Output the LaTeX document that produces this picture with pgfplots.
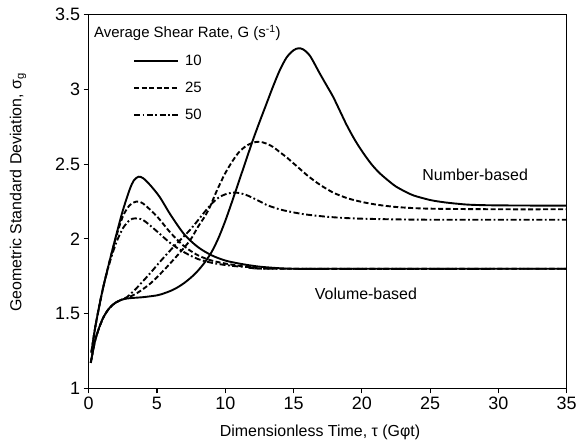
\documentclass[border=0pt]{standalone}
\usepackage{pgfplots}
\pgfplotsset{compat=1.18}
\usepackage{fontspec}
\setmainfont{Liberation Sans}
\begin{document}
\begin{tikzpicture}
\path[use as bounding box] (-88.7bp,-54.7bp) rectangle (487.3bp,388.3bp);
\begin{axis}[
  at={(0,0)}, anchor=south west, scale only axis,
  width=478bp, height=373.6bp,
  xmin=0, xmax=35, ymin=1, ymax=3.5,
  xtick={0,5,...,35}, ytick={1,1.5,2,2.5,3,3.5},
  tick align=outside, tick pos=left,
  major tick length=5bp,
  axis line style={line width=1.1bp},
  every tick/.style={line width=1.1bp, black},
  /pgf/number format/assume math mode=true,
  ticklabel style={font=\fontsize{18}{21}\selectfont},
  xlabel={Dimensionless Time, τ (Gφt)},
  ylabel={Geometric Standard Deviation, σ\textsubscript{g}},
  label style={font=\fontsize{16}{19}\selectfont},
  x label style={at={(axis description cs:0.484,0)}, anchor=center, yshift=-44bp},
  y label style={at={(axis description cs:-0.148,0.524)}, anchor=center},
  legend style={at={(axis cs:3.24,3.245)}, anchor=north west, draw=none, fill=none,
    font=\fontsize{15}{18}\selectfont, inner sep=0pt, row sep=11bp,
    /tikz/every odd column/.append style={column sep=4bp}},
  legend cell align=left,
  legend image code/.code={\draw[#1] (0bp,0bp) -- (44bp,0bp);},
  every axis plot/.append style={line width=1.9bp, black, smooth, tension=0.5},
]
% Number-based, G=10
\addplot[solid] coordinates {
(0.15,1.17)(0.5,1.33)(1,1.46)(1.5,1.535)(2,1.575)(2.5,1.595)(3,1.603)(4,1.61)(5,1.622)(5.5,1.635)(6,1.652)(6.5,1.675)(7,1.705)(7.5,1.742)(8,1.787)(8.5,1.843)(9,1.912)(9.5,2.005)(10,2.12)(10.5,2.25)(11,2.385)(11.5,2.52)(12,2.655)(12.5,2.78)(13,2.90)(13.5,3.02)(14,3.13)(14.5,3.215)(15,3.262)(15.35,3.275)(15.7,3.268)(16.2,3.225)(16.9,3.11)(17.4,3.03)(17.9,2.95)(18.4,2.855)(18.9,2.76)(19.5,2.66)(20.1,2.575)(20.7,2.50)(21.3,2.44)(22,2.385)(22.5,2.35)(23.2,2.315)(23.8,2.29)(25,2.26)(26,2.245)(27,2.235)(28,2.228)(30,2.224)(35,2.222)};
\addlegendentry{10}
% Number-based, G=25
\addplot[dash pattern=on 5bp off 2.5bp] coordinates {
(0.15,1.17)(0.5,1.33)(1,1.46)(1.5,1.535)(2,1.575)(2.5,1.595)(2.8,1.605)(3.5,1.635)(4.5,1.70)(5.5,1.79)(6.5,1.89)(7.42,1.99)(8,2.08)(8.5,2.15)(8.88,2.215)(9.37,2.32)(10,2.44)(10.6,2.53)(11,2.58)(11.5,2.62)(12,2.643)(12.5,2.65)(13,2.638)(13.5,2.615)(14,2.58)(14.5,2.545)(15,2.505)(15.5,2.465)(16,2.425)(16.5,2.39)(17,2.358)(17.5,2.33)(18,2.305)(18.5,2.287)(19,2.27)(20,2.247)(21,2.23)(22,2.218)(23,2.21)(25,2.202)(30,2.198)(35,2.198)};
\addlegendentry{25}
% Number-based, G=50
\addplot[dash pattern=on 6bp off 2.5bp on 1.8bp off 2.5bp] coordinates {
(0.15,1.17)(0.5,1.33)(1,1.46)(1.5,1.535)(2,1.575)(2.5,1.597)(2.8,1.61)(3.5,1.67)(4.5,1.77)(5.3,1.855)(6.3,1.955)(7.42,2.06)(8.4,2.17)(9.0,2.235)(9.5,2.275)(10,2.298)(10.7,2.31)(11.5,2.295)(12.5,2.252)(13,2.228)(14,2.197)(15,2.177)(16,2.162)(17.7,2.146)(20,2.135)(25,2.128)(35,2.128)};
\addlegendentry{50}
% Volume-based, G=10
\addplot[solid, forget plot] coordinates {
(0.2,1.24)(0.5,1.42)(1,1.65)(1.5,1.84)(2,2.02)(2.5,2.19)(3,2.33)(3.3,2.39)(3.65,2.416)(4,2.405)(4.5,2.36)(5.2,2.28)(6,2.16)(7,2.03)(8,1.945)(9,1.89)(10,1.855)(11,1.835)(12,1.82)(13,1.81)(15,1.80)(20,1.80)(35,1.80)};
% Volume-based, G=25
\addplot[dash pattern=on 5bp off 2.5bp, forget plot] coordinates {
(0.2,1.24)(0.5,1.42)(1,1.65)(1.5,1.84)(2,2.01)(2.5,2.15)(3,2.225)(3.5,2.25)(4,2.235)(5,2.15)(6,2.04)(7,1.95)(8,1.89)(9,1.855)(10,1.835)(11,1.82)(12,1.81)(14,1.80)(35,1.80)};
% Volume-based, G=50
\addplot[dash pattern=on 6bp off 2.5bp on 1.8bp off 2.5bp, forget plot] coordinates {
(0.2,1.24)(0.5,1.42)(1,1.65)(1.5,1.83)(2,1.97)(2.5,2.07)(3,2.125)(3.4,2.137)(4,2.125)(5,2.05)(6,1.97)(7,1.91)(8,1.865)(9,1.84)(10,1.825)(11,1.815)(12,1.81)(14,1.80)(35,1.80)};
\node[font=\fontsize{16}{19}\selectfont] at (axis cs:28.3,2.427) {Number-based};
\node[font=\fontsize{16}{19}\selectfont] at (axis cs:20.3,1.63) {Volume-based};
\node[anchor=west, inner sep=0pt, font=\fontsize{15}{18}\selectfont] at (axis cs:0.39,3.378) {Average Shear Rate, G (s\textsuperscript{-1})};
\end{axis}
\end{tikzpicture}
\end{document}
